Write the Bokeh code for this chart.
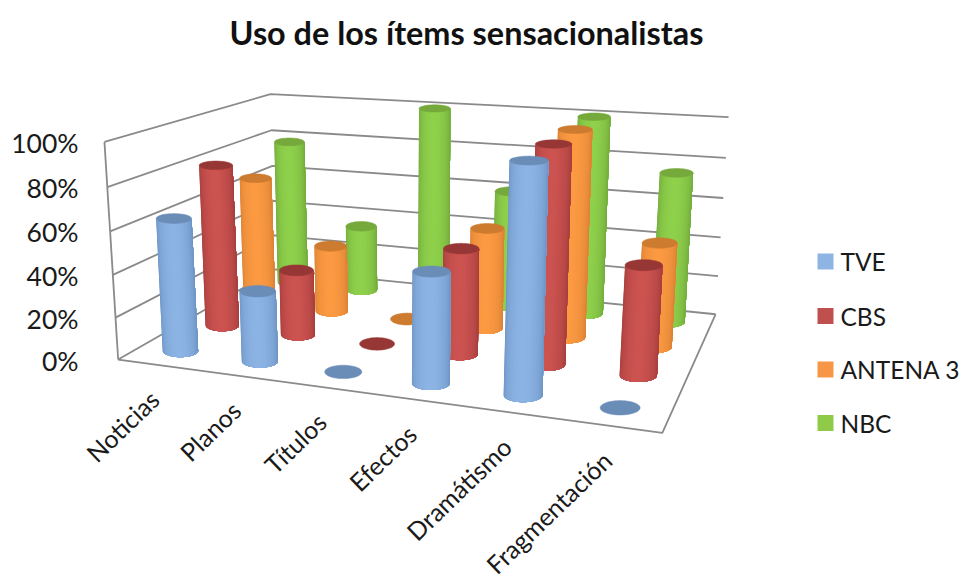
import numpy as np
from bokeh.embed import file_html
from bokeh.models import Range1d
from bokeh.plotting import figure
from bokeh.resources import INLINE
from bokeh.core.properties import value

# Chart content
title_text = "Uso de los ítems sensacionalistas"
categories = ["Noticias", "Planos", "Títulos", "Efectos", "Dramátismo", "Fragmentación"]
series_names = ["TVE", "CBS", "ANTENA 3", "NBC"]
tve = [63, 33, 0, 50, 100, 0]
cbs = [80, 32, 0, 50, 100, 50]
antena3 = [66, 34, 0, 50, 100, 50]
nbc = [78, 35, 100, 60, 100, 75]
percent_ticks = [0, 20, 40, 60, 80, 100]

# base, highlight, edge and cap colours per series
mid_colors = ["#8CB4E4", "#CC5350", "#FC9A42", "#8FD14B"]
edge_colors = ["#6A90C0", "#A03C3A", "#D67F33", "#6FA63B"]
cap_colors = ["#6A8DB8", "#973735", "#CC7B2F", "#76A93B"]
legend_colors = ["#8DB4E2", "#C0504D", "#F79646", "#8FCB48"]

GRID = "#8A8A8A"
TEXT = "#1A1A1A"
FONT = "Lato"

W, H = 964, 587

# Reference points of the 3D box: (category, depth, height) -> pixel position
anchors = {
    (0, 0, 0): (117.5, 358), (0, 0, 1): (104, 142),
    (0, 1, 0): (275, 270), (0, 1, 1): (270, 93),
    (1, 1, 0): (715, 313), (1, 1, 1): (728, 117),
    (1, 0, 0): (662, 433),
}


def solve_camera(points):
    rows, rhs = [], []
    for (x, y, z), (px, py) in points.items():
        rows.append([x, y, z, 1, 0, 0, 0, 0, -px * x, -px * y, -px * z])
        rhs.append(px)
        rows.append([0, 0, 0, 0, x, y, z, 1, -py * x, -py * y, -py * z])
        rhs.append(py)
    sol = np.linalg.lstsq(np.array(rows, float), np.array(rhs, float), rcond=None)[0]
    return np.append(sol, 1.0).reshape(3, 4)


CAM = solve_camera(anchors)


def project(x, y, z):
    v = CAM @ np.array([x, y, z, 1.0])
    return v[0] / v[2], v[1] / v[2]


p = figure(width=W, height=H, output_backend="svg", toolbar_location=None,
           x_range=Range1d(0, W), y_range=Range1d(H, 0), min_border=0,
           outline_line_color=None, background_fill_color="white")
p.axis.visible = False
p.grid.visible = False

# Walls and floor
for t in percent_ticks:
    z = t / 100
    a, b, c = project(0, 0, z), project(0, 1, z), project(1, 1, z)
    p.line([a[0], b[0], c[0]], [a[1], b[1], c[1]], line_color=GRID, line_width=1.8)
a, b = project(0, 0, 0), project(0, 0, 1)
p.line([a[0], b[0]], [a[1], b[1]], line_color=GRID, line_width=1.8)
c, d = project(1, 0, 0), project(1, 1, 0)
p.line([a[0], c[0], d[0]], [a[1], c[1], d[1]], line_color=GRID, line_width=1.8)


def shade(c1, c2, f):
    a = np.array([int(c1[i:i + 2], 16) for i in (1, 3, 5)])
    b = np.array([int(c2[i:i + 2], 16) for i in (1, 3, 5)])
    m = a + (b - a) * f
    return "#%02x%02x%02x" % tuple(int(round(q)) for q in m)


def cap_shape(x, y, z):
    """Screen-space half axes of a cylinder section at this floor position and height."""
    p0 = project(x, y, 0)
    p1 = project(x, y, 1)
    reach = np.hypot(p1[0] - p0[0], p1[1] - p0[1])
    rx = 0.083 * reach
    return rx, rx * (0.36 - 0.13 * z)


def ellipse(cx, cy, rx, ry, n=48):
    t = np.linspace(0, 2 * np.pi, n, endpoint=False)
    return cx + rx * np.cos(t), cy + ry * np.sin(t)


rows = [tve, cbs, antena3, nbc]
n_cat = len(categories)
n_ser = len(rows)
STRIPS = 26

# Cylinders are painted from the back row to the front one
for j in range(n_ser - 1, -1, -1):
    y3 = (j + 0.5) / n_ser
    for i in range(n_cat):
        x3 = (i + 0.5) / n_cat
        z = rows[j][i] / 100
        bx, by = project(x3, y3, 0)
        brx, bry = cap_shape(x3, y3, 0)
        if z > 0:
            tx, ty = project(x3, y3, z)
            trx, try_ = cap_shape(x3, y3, z)
            ang = np.linspace(np.pi, 0, STRIPS + 1)
            xs, ys, cols = [], [], []
            # each strip spans to the far side so the next one overlaps it, leaving no seams
            for k in range(STRIPS):
                a0 = ang[k]
                arc = np.linspace(a0, 0, 24)
                xs.append(list(bx + brx * np.cos(arc)) + list(tx + trx * np.cos(arc[::-1])))
                ys.append(list(by + bry * np.sin(arc)) + list(ty + try_ * np.sin(arc[::-1])))
                u = (k + 0.5) / STRIPS
                f = min(1.0, abs(u - 0.48) / 0.5) ** 1.6
                cols.append(shade(mid_colors[j], edge_colors[j], f))
            p.patches(xs, ys, fill_color=cols, line_color=None)
            ex, ey = ellipse(tx, ty, trx, try_)
        else:
            ex, ey = ellipse(bx, by, brx, bry)
        p.patch(ex, ey, fill_color=cap_colors[j], line_color=cap_colors[j], line_width=0.5)

# Percent labels, right-aligned beside the front-left edge
for t in percent_ticks:
    _, py = project(0, 0, t / 100)
    p.text([78], [py + 1], text=[f"{t}%"], text_align="right", text_baseline="middle",
           text_font=value(FONT), text_font_size="26.5px", text_color=TEXT)

# Category labels, rotated up to the right and ending under each column slot
for i, name in enumerate(categories):
    px, py = project((i + 0.5) / n_cat, 0, 0)
    p.text([px - 3], [py + 30], text=[name], text_align="right", text_baseline="middle",
           angle=[np.deg2rad(44)], text_font=value(FONT), text_font_size="25px", text_color=TEXT)

# Legend
for name, col, ly in zip(series_names, legend_colors, [261, 315.5, 369, 422.5]):
    p.quad(left=[817], right=[833], top=[ly - 8], bottom=[ly + 8], fill_color=col, line_color=None)
    p.text([840], [ly], text=[name], text_baseline="middle", text_font=value(FONT),
           text_font_size="24.5px", text_color=TEXT)

# Title
p.text([466], [32], text=[title_text], text_align="center", text_baseline="middle",
       text_font=value(FONT), text_font_style="bold", text_font_size="32.4px", text_color="#111111")

open("out.html", "w").write(file_html(p, INLINE))
